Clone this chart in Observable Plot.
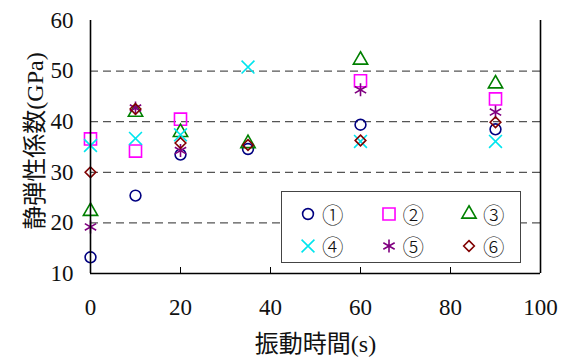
<!DOCTYPE html>
<html><head><meta charset="utf-8">
<script src="https://cdn.jsdelivr.net/npm/d3@7"></script>
<script src="https://cdn.jsdelivr.net/npm/@observablehq/plot@0.6"></script>
<style>
body{margin:0;background:#fff;}
#wrap{position:relative;width:570px;height:358px;font-family:"Liberation Serif","Noto Sans CJK JP",serif;}
#legend{position:absolute;left:281px;top:191px;width:240px;height:72px;border:1px solid #444;background:#fff;box-sizing:border-box;
  display:grid;grid-template-columns:repeat(3,80.5px);grid-template-rows:repeat(2,32px);padding:6px 0 0 17px;}
#legend .it{display:flex;align-items:center;font-size:21.5px;line-height:1;color:#111;font-family:"Noto Sans CJK JP","Liberation Serif",serif;font-weight:300;}
#legend svg{margin-right:5px;overflow:visible;}
</style></head><body><div id="wrap"></div>
<script>
const times = [0, 10, 20, 35, 60, 90];
const seriesNames = ["①", "②", "③", "④", "⑤", "⑥"];
const s1 = [13.2, 25.4, 33.5, 34.6, 39.4, 38.5];
const s2 = [36.6, 34.2, 40.5, null, 48.1, 44.5];
const s3 = [22.3, 41.9, 37.9, 35.7, 52.2, 47.5];
const s4 = [35.3, 36.7, 37.4, 50.8, 36.1, 36.1];
const s5 = [19.2, 42.7, 34.3, null, 46.3, 41.9];
const s6 = [30.0, 42.5, 35.8, 35.4, 36.3, 39.9];
const xTicks = [0, 20, 40, 60, 80, 100];
const yTicks = [10, 20, 30, 40, 50, 60];
const gridValues = [20, 30, 40, 50];
const xLabel = "振動時間(s)";
const yLabel = "静弾性係数(GPa)";

const seriesValues = [s1, s2, s3, s4, s5, s6];
const colors = ["#000080", "#FF00FF", "#008000", "#00E5EE", "#800080", "#800000"];
const symbols = ["circle", "square", "triangle", "times", "asterisk", "diamond2"];
const radii = [5.4, 6.8, 5.3, 5.9, 6.2, 4.8];

const dotMarks = seriesValues.map((vals, i) =>
  Plot.dot(times.map((t, j) => ({t, v: vals[j]})).filter(d => d.v != null), {
    x: "t", y: "v", symbol: () => symbols[i], r: radii[i], stroke: colors[i], strokeWidth: 1.6, fill: "none"
  })
);

const chart = Plot.plot({
  width: 570, height: 358,
  marginLeft: 90, marginRight: 30, marginTop: 20, marginBottom: 85,
  style: {fontFamily: '"Liberation Serif","Noto Sans CJK JP",serif', fontSize: "23px", color: "#111", background: "#fff"},
  x: {domain: [0, 100]},
  y: {domain: [10, 60]},
  symbol: {type: "identity"},
  marks: [
    Plot.gridY(gridValues, {stroke: "#555", strokeOpacity: 1, strokeWidth: 1.2, strokeDasharray: "8,5"}),
    Plot.axisY(yTicks, {tickSize: 0, tickPadding: 17, fontSize: 23, label: null}),
    Plot.axisX(xTicks, {tickSize: 0, tickPadding: 25, fontSize: 23, label: null}),
    Plot.axisX(xTicks.slice(1, -1), {tickSize: -6, text: null, label: null, stroke: "#000"}),
    Plot.text([yLabel], {text: d => d, frameAnchor: "left", textAnchor: "middle", lineAnchor: "middle", rotate: -90, dx: -55, dy: -6, fontSize: 24, fill: "#111"}),
    Plot.text([xLabel], {text: d => d, frameAnchor: "bottom", dy: 71, fontSize: 24, lineAnchor: "middle", fill: "#111"}),
    ...dotMarks,
    Plot.ruleX([xTicks[0], xTicks[xTicks.length - 1]], {stroke: "#000", strokeWidth: 1.6}),
    Plot.ruleY([yTicks[0]], {stroke: "#000", strokeWidth: 1.6})
  ]
});
const wrap = document.getElementById("wrap");
wrap.appendChild(chart);

// legend
const legend = document.createElement("div");
legend.id = "legend";
const symMap = {circle: d3.symbolCircle, square: d3.symbolSquare, triangle: d3.symbolTriangle, times: d3.symbolTimes, asterisk: d3.symbolAsterisk, diamond2: d3.symbolDiamond2};
seriesNames.forEach((name, i) => {
  const it = document.createElement("div");
  it.className = "it";
  const svg = d3.create("svg").attr("width", 18).attr("height", 18);
  svg.append("path")
    .attr("transform", "translate(9,9)")
    .attr("d", d3.symbol(symMap[symbols[i]], Math.PI * radii[i] * radii[i])())
    .attr("fill", "none").attr("stroke", colors[i]).attr("stroke-width", 1.6);
  it.appendChild(svg.node());
  const sp = document.createElement("span");
  sp.textContent = name;
  it.appendChild(sp);
  legend.appendChild(it);
});
wrap.appendChild(legend);
</script>
</body></html>
